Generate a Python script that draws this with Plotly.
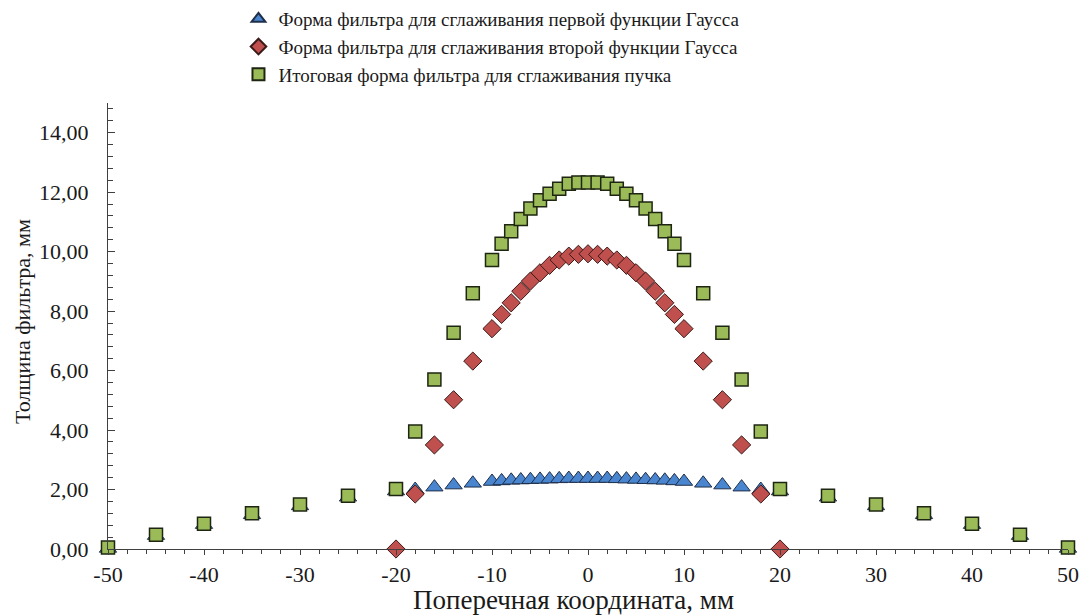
import plotly.graph_objects as go

# ---- data ----
x_full = [-50, -45, -40, -35, -30, -25, -20, -18, -16, -14, -12, -10, -9, -8, -7, -6, -5, -4, -3, -2, -1, 0,
          1, 2, 3, 4, 5, 6, 7, 8, 9, 10, 12, 14, 16, 18, 20, 25, 30, 35, 40, 45, 50]
x_red = [-20, -18, -16, -14, -12, -10, -9, -8, -7, -6, -5, -4, -3, -2, -1, 0,
         1, 2, 3, 4, 5, 6, 7, 8, 9, 10, 12, 14, 16, 18, 20]

blue_vals = [0.02, 0.45, 0.82, 1.15, 1.45, 1.74, 1.95, 2.00, 2.08, 2.15, 2.21, 2.27, 2.29, 2.31, 2.32, 2.33, 2.34, 2.35, 2.36, 2.37, 2.37, 2.37,
             2.37, 2.37, 2.36, 2.35, 2.34, 2.33, 2.32, 2.31, 2.29, 2.27, 2.21, 2.15, 2.08, 2.00, 1.95, 1.74, 1.45, 1.15, 0.82, 0.45, 0.02]
red_vals = [0.0, 1.85, 3.5, 5.02, 6.32, 7.41, 7.89, 8.28, 8.67, 9.01, 9.29, 9.54, 9.72, 9.85, 9.91, 9.93,
            9.91, 9.85, 9.72, 9.54, 9.29, 9.01, 8.67, 8.28, 7.89, 7.41, 6.32, 5.02, 3.5, 1.85, 0.0]
green_vals = [0.05, 0.48, 0.85, 1.2, 1.5, 1.79, 2.02, 3.95, 5.7, 7.27, 8.6, 9.72, 10.27, 10.69, 11.1, 11.45, 11.73, 11.95, 12.12, 12.28, 12.33, 12.33,
              12.33, 12.28, 12.12, 11.95, 11.73, 11.45, 11.1, 10.69, 10.27, 9.72, 8.6, 7.27, 5.7, 3.95, 2.02, 1.79, 1.5, 1.2, 0.85, 0.48, 0.05]

names = ["Форма фильтра для сглаживания первой функции Гаусса",
         "Форма фильтра для сглаживания второй функции Гаусса",
         "Итоговая форма фильтра для сглаживания пучка"]
y_ticks = [0, 2, 4, 6, 8, 10, 12, 14]
y_tick_text = ["0,00", "2,00", "4,00", "6,00", "8,00", "10,00", "12,00", "14,00"]
x_ticks = [-50, -40, -30, -20, -10, 0, 10, 20, 30, 40, 50]
x_tick_text = ["-50", "-40", "-30", "-20", "-10", "0", "10", "20", "30", "40", "50"]
x_title = "Поперечная координата, мм"
y_title = "Толщина фильтра, мм"

FONT = "Liberation Serif"
TXT = "#1a1a1a"
AX = "#404040"
fig = go.Figure()
fig.add_trace(go.Scatter(x=x_full, y=blue_vals, mode="markers", name=names[0], cliponaxis=False,
                         marker=dict(symbol="triangle-up", size=15, color="#4A86CF",
                                     line=dict(color="#1F2F4A", width=1))))
fig.add_trace(go.Scatter(x=x_red, y=red_vals, mode="markers", name=names[1], cliponaxis=False,
                         marker=dict(symbol="diamond", size=14, color="#C0504D",
                                     line=dict(color="#3A1A19", width=1))))
fig.add_trace(go.Scatter(x=x_full, y=green_vals, mode="markers", name=names[2], cliponaxis=False,
                         marker=dict(symbol="square", size=13, color="#9BBB59",
                                     line=dict(color="#1E2612", width=1.5))))

fig.update_layout(
    width=1084, height=616,
    paper_bgcolor="white", plot_bgcolor="white",
    margin=dict(l=108, r=16, t=103, b=67, autoexpand=False),
    font=dict(family=FONT, size=20, color=TXT),
    showlegend=True,
    legend=dict(xref="container", yref="container", x=0.22, y=1.0, xanchor="left", yanchor="top",
                font=dict(family=FONT, size=19, color=TXT), itemsizing="constant",
                bgcolor="rgba(0,0,0,0)", tracegroupgap=0),
    xaxis=dict(range=[-50, 50], tickvals=x_ticks, ticktext=x_tick_text, ticks="outside", ticklen=5, tickcolor=AX,
               showline=True, linecolor=AX, linewidth=1.2, showgrid=False, zeroline=False,
               tickangle=0, automargin=False,
               tickfont=dict(family=FONT, size=22, color=TXT),
               minor=dict(dtick=2, tick0=0, ticks="outside", ticklen=4, tickcolor=AX)),
    xaxis2=dict(range=[-50, 50], overlaying="x", anchor="y", side="bottom", tickvals=x_ticks, ticks="inside", ticklen=5,
                tickcolor=AX, showticklabels=False, showline=False, showgrid=False, zeroline=False,
                minor=dict(dtick=2, tick0=0, ticks="inside", ticklen=4, tickcolor=AX)),
    yaxis=dict(range=[0, 15], tickvals=y_ticks, ticktext=y_tick_text, ticks="inside", ticklen=7, tickcolor=AX,
               showline=True, linecolor=AX, linewidth=1.2, showgrid=False, zeroline=False, automargin=False,
               tickfont=dict(family=FONT, size=22, color=TXT), ticklabelstandoff=14,
               minor=dict(dtick=0.4, tick0=0, ticks="inside", ticklen=5, tickcolor=AX)),
    annotations=[
        dict(text=x_title, xref="paper", yref="paper", x=(573 - 108) / 960, y=-0.115, xanchor="center", yanchor="middle",
             showarrow=False, font=dict(family=FONT, size=27, color=TXT)),
        dict(text=y_title, xref="paper", yref="paper", x=(22 - 108) / 960, y=(549 - 322) / 446, xanchor="center", yanchor="middle",
             textangle=-90, showarrow=False, font=dict(family=FONT, size=22, color=TXT)),
    ],
)
fig.write_html("out.html")
